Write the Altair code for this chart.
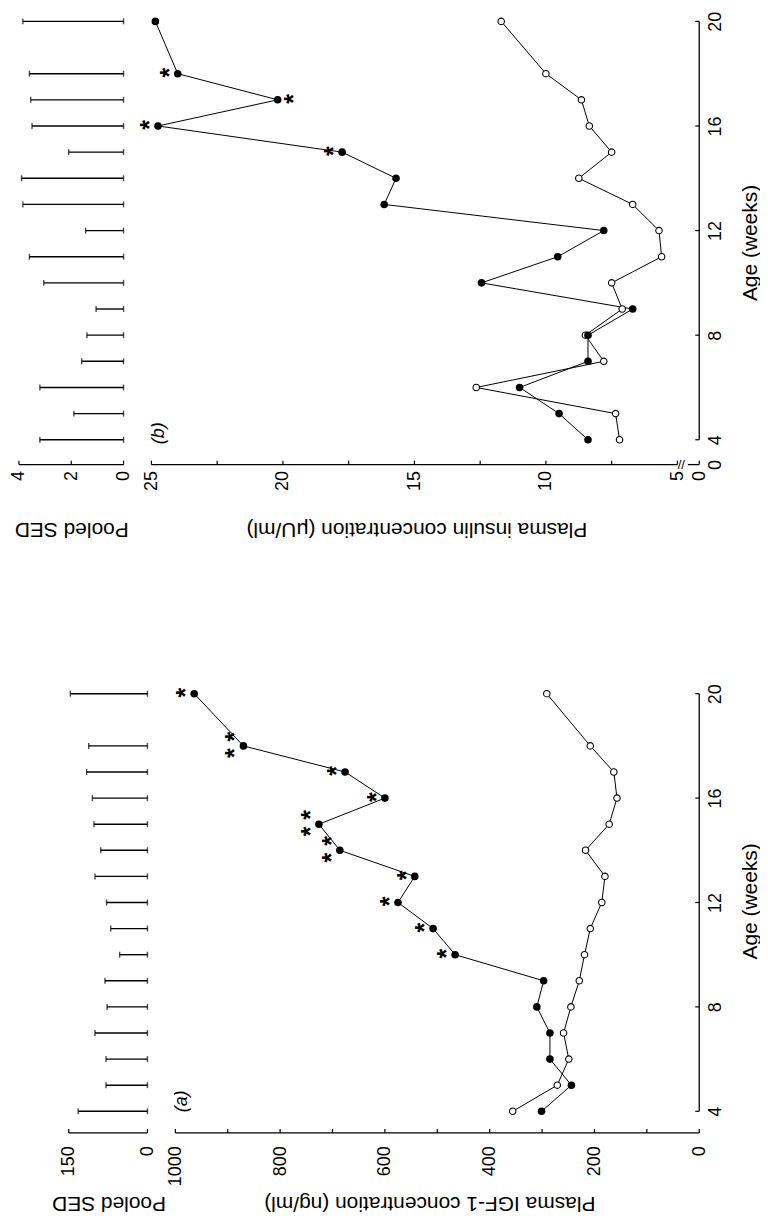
import altair as alt
import pandas as pd

# ---------------- data ----------------
ages = [4, 5, 6, 7, 8, 9, 10, 11, 12, 13, 14, 15, 16, 17, 18, 20]

# panel (b): plasma insulin (uU/ml)
insulin_filled = [8.4, 9.5, 11.0, 8.4, 8.4, 6.7, 12.45, 9.55, 7.8, 16.15, 15.7, 17.75, 24.75, 20.2, 24.0, 24.85]
insulin_open = [7.2, 7.35, 12.65, 7.8, 8.5, 7.1, 7.5, 5.6, 5.7, 6.7, 8.75, 7.5, 8.35, 8.65, 10.0, 11.7]
insulin_sed = [3.2, 1.9, 3.2, 1.6, 1.4, 1.05, 3.05, 3.6, 1.45, 3.85, 3.9, 2.1, 3.5, 3.55, 3.6, 3.85]
insulin_star_left = ["", "", "", "", "", "", "", "", "", "", "", "*", "*", "", "*", ""]
insulin_star_right = ["", "", "", "", "", "", "", "", "", "", "", "", "", "*", "", ""]

# panel (a): plasma IGF-1 (ng/ml)
igf_filled = [301, 244, 285, 285, 310, 297, 466, 508, 575, 543, 686, 726, 600, 676, 870, 964]
igf_open = [356, 271, 249, 259, 245, 229, 219, 208, 186, 180, 217, 172, 157, 163, 208, 291]
igf_sed = [132, 79, 79, 100, 77, 81, 53, 70, 78, 100, 89, 102, 105, 116, 112, 147]
igf_star = ["", "", "", "", "", "", "*", "*", "*", "*", "* *", "* *", "*", "*", "* *", "*"]

age_ticks = [4, 8, 12, 16, 20]
insulin_ticks = [5, 7.5, 10, 12.5, 15, 17.5, 20, 22.5, 25]
insulin_zero = 4.17
igf_ticks = [0, 100, 200, 300, 400, 500, 600, 700, 800, 900, 1000]
igf_labels = [0, 200, 400, 600, 800, 1000]
sed_b_ticks = [0, 2, 4]
sed_a_ticks = [0, 150]

panel_b_label = {"c": [24.7], "age": [4.25], "t": ["(b)"]}
panel_a_label = {"c": [987], "age": [4.38], "t": ["(a)"]}

FONT = "Liberation Sans"
BLACK = "#000000"

df_b = pd.DataFrame({"age": ages, "filled": insulin_filled, "open": insulin_open,
                     "sed": insulin_sed, "sl": insulin_star_left, "sr": insulin_star_right})
df_a = pd.DataFrame({"age": ages, "filled": igf_filled, "open": igf_open,
                     "sed": igf_sed, "sl": igf_star})
one = pd.DataFrame({"k": [0]})


def bottom_axis(values, title, title_x, title_y, pad, label_expr=None):
    kw = dict(orient="bottom", values=values, labelAngle=270, labelAlign="right",
              labelBaseline="middle", labelPadding=pad, ticks=False, tickSize=0,
              domain=False, grid=False, labelFlush=False, labelOverlap=False,
              title=title, titleAngle=180, titleAlign="center", titleBaseline="middle",
              titleX=title_x, titleY=title_y, format="d")
    if label_expr:
        kw["labelExpr"] = label_expr
    return alt.Axis(**kw)


def right_axis(values, title_y, label_expr=None):
    kw = dict(orient="right", values=values, labelAngle=270, labelAlign="center",
              labelBaseline="top", labelPadding=7, ticks=False, tickSize=0,
              domain=False, grid=False, labelFlush=False, labelOverlap=False,
              title="Age (weeks)", titleAngle=270, titleAlign="center",
              titleBaseline="middle", titleX=51, titleY=title_y, format="d")
    if label_expr:
        kw["labelExpr"] = label_expr
    return alt.Axis(**kw)


def hdomain(xs, xa, H, v1, v2):
    return alt.Chart(one).mark_rule(color=BLACK, strokeWidth=1.3).encode(
        x=alt.XDatum(v1, scale=xs, axis=xa), x2=alt.X2Datum(v2), y=alt.value(H))


def vdomain(ys, ya, W, v1, v2):
    return alt.Chart(one).mark_rule(color=BLACK, strokeWidth=1.3).encode(
        y=alt.YDatum(v1, scale=ys, axis=ya), y2=alt.Y2Datum(v2), x=alt.value(W))


def xticks(vals, xs, xa, H, L=4):
    return alt.Chart(pd.DataFrame({"v": vals})).mark_rule(color=BLACK, strokeWidth=1.2).encode(
        x=alt.X("v:Q", scale=xs, axis=xa), y=alt.value(H), y2=alt.value(H - L))


def yticks(vals, ys, ya, W, L=4):
    return alt.Chart(pd.DataFrame({"v": vals})).mark_rule(color=BLACK, strokeWidth=1.2).encode(
        y=alt.Y("v:Q", scale=ys, axis=ya), x=alt.value(W), x2=alt.value(W - L))


def XY(field, xs, xa, ys, ya):
    return dict(x=alt.X(field + ":Q", scale=xs, axis=xa), y=alt.Y("age:Q", scale=ys, axis=ya))


def data_layers(df, xs, ys, xa, ya):
    base = alt.Chart(df)
    line_f = base.mark_line(color=BLACK, strokeWidth=1).encode(
        **XY("filled", xs, xa, ys, ya), order="age:Q")
    line_o = base.mark_line(color=BLACK, strokeWidth=1).encode(
        **XY("open", xs, xa, ys, ya), order="age:Q")
    pts_o = base.mark_point(shape="circle", filled=True, fill="white", stroke=BLACK,
                            strokeWidth=1.1, size=42, opacity=1).encode(**XY("open", xs, xa, ys, ya))
    pts_f = base.mark_circle(color=BLACK, size=58, opacity=1).encode(**XY("filled", xs, xa, ys, ya))
    return [line_f, line_o, pts_o, pts_f]


def star_layer(df, xs, xa, ys, ya, field, dy):
    return alt.Chart(df).mark_text(angle=270, fontSize=25, font=FONT, fontWeight="bold",
                                   color=BLACK, dy=dy, dx=1).encode(
        **XY("filled", xs, xa, ys, ya), text=alt.Text(field + ":N"))


def tag_layer(d, xs, xa, ys, ya):
    return alt.Chart(pd.DataFrame(d)).mark_text(angle=270, fontSize=18, font=FONT,
                                                fontStyle="italic", color=BLACK).encode(
        x=alt.X("c:Q", scale=xs, axis=xa), y=alt.Y("age:Q", scale=ys, axis=ya), text="t:N")


def sed_layers(df, ss, sa, ys, H, ticks, top):
    base = alt.Chart(df)
    bars = base.mark_rule(color=BLACK, strokeWidth=1.4).encode(
        x=alt.X("sed:Q", scale=ss, axis=sa), x2=alt.X2Datum(0),
        y=alt.Y("age:Q", scale=ys, axis=None))
    cap1 = base.mark_tick(orient="vertical", size=6, thickness=1.4, color=BLACK).encode(
        x=alt.X("sed:Q", scale=ss, axis=sa), y=alt.Y("age:Q", scale=ys, axis=None))
    cap0 = base.mark_tick(orient="vertical", size=6, thickness=1.4, color=BLACK).encode(
        x=alt.XDatum(0, scale=ss, axis=sa), y=alt.Y("age:Q", scale=ys, axis=None))
    return [bars, cap1, cap0, hdomain(ss, sa, H, 0, top), xticks(ticks, ss, sa, H)]


# ---------------- panel (b) ----------------
Wb, Hb, Wpb = 550, 445, 105
sx_b = alt.Scale(domain=[insulin_zero, 25], reverse=True, nice=False, zero=False)
sy_b = alt.Scale(domain=[3.05, 20], nice=False, zero=False)
ss_b = alt.Scale(domain=[0, 4], reverse=True, nice=False, zero=False)

ax_conc_b = bottom_axis([insulin_zero, 5, 10, 15, 20, 25],
                        "Plasma insulin concentration (\u03bcU/ml)", 266, 64, 6,
                        "datum.value < 4.5 ? '0' : format(datum.value, 'd')")
ax_age_b = right_axis([3.05] + age_ticks, 222,
                      "datum.value < 3.5 ? '0' : format(datum.value, 'd')")
ax_sed_b = bottom_axis(sed_b_ticks, "Pooled SED", Wpb / 2, 64, 6)

brk_b = alt.Chart(one).mark_text(text="//", fontSize=13, font=FONT, color=BLACK).encode(
    x=alt.XDatum(4.85, scale=sx_b, axis=ax_conc_b), y=alt.value(Hb))

main_b = alt.layer(
    *data_layers(df_b, sx_b, sy_b, ax_conc_b, ax_age_b),
    star_layer(df_b, sx_b, ax_conc_b, sy_b, ax_age_b, "sl", -8),
    star_layer(df_b, sx_b, ax_conc_b, sy_b, ax_age_b, "sr", 16),
    tag_layer(panel_b_label, sx_b, ax_conc_b, sy_b, ax_age_b),
    hdomain(sx_b, ax_conc_b, Hb, 25, 5.0), hdomain(sx_b, ax_conc_b, Hb, 4.6, insulin_zero), brk_b,
    xticks(insulin_ticks + [insulin_zero], sx_b, ax_conc_b, Hb),
    vdomain(sy_b, ax_age_b, Wb, 4, 20), yticks(age_ticks, sy_b, ax_age_b, Wb),
).properties(width=Wb, height=Hb)

pooled_b = alt.layer(*sed_layers(df_b, ss_b, ax_sed_b, sy_b, Hb, sed_b_ticks, 4)).properties(
    width=Wpb, height=Hb)

# ---------------- panel (a) ----------------
Wa, Ha, Wpa = 526, 441, 129
sx_a = alt.Scale(domain=[0, 1000], reverse=True, nice=False, zero=False)
sy_a = alt.Scale(domain=[3.17, 20], nice=False, zero=False)
ss_a = alt.Scale(domain=[0, 245], reverse=True, nice=False, zero=False)

ax_conc_a = bottom_axis(igf_labels, "Plasma IGF-1 concentration (ng/ml)", 255, 70, 13)
ax_age_a = right_axis(age_ticks, 208)
ax_sed_a = bottom_axis(sed_a_ticks, "Pooled SED", 90, 70, 13)

main_a = alt.layer(
    *data_layers(df_a, sx_a, sy_a, ax_conc_a, ax_age_a),
    star_layer(df_a, sx_a, ax_conc_a, sy_a, ax_age_a, "sl", -8),
    tag_layer(panel_a_label, sx_a, ax_conc_a, sy_a, ax_age_a),
    hdomain(sx_a, ax_conc_a, Ha, 1000, 0), xticks(igf_ticks, sx_a, ax_conc_a, Ha),
    vdomain(sy_a, ax_age_a, Wa, 4, 20), yticks(age_ticks, sy_a, ax_age_a, Wa),
).properties(width=Wa, height=Ha)

pooled_a = alt.layer(*sed_layers(df_a, ss_a, ax_sed_a, sy_a, Ha, sed_a_ticks, 150)).properties(
    width=Wpa, height=Ha)

row_b = alt.hconcat(pooled_b, main_b, spacing=28, bounds="flush")
row_a = alt.hconcat(pooled_a, main_a, spacing=28, bounds="flush")

chart = alt.vconcat(row_b, row_a, spacing=675, bounds="flush").properties(
    padding={"left": 2, "top": 0, "right": 0, "bottom": 12},
    background="white",
).configure_view(stroke=None).configure_axis(
    labelFont=FONT, titleFont=FONT, labelFontSize=18, titleFontSize=21,
    titleFontWeight="normal", labelColor=BLACK, titleColor=BLACK,
)

chart.save("out.html", embed_options={"renderer": "svg", "actions": False})
